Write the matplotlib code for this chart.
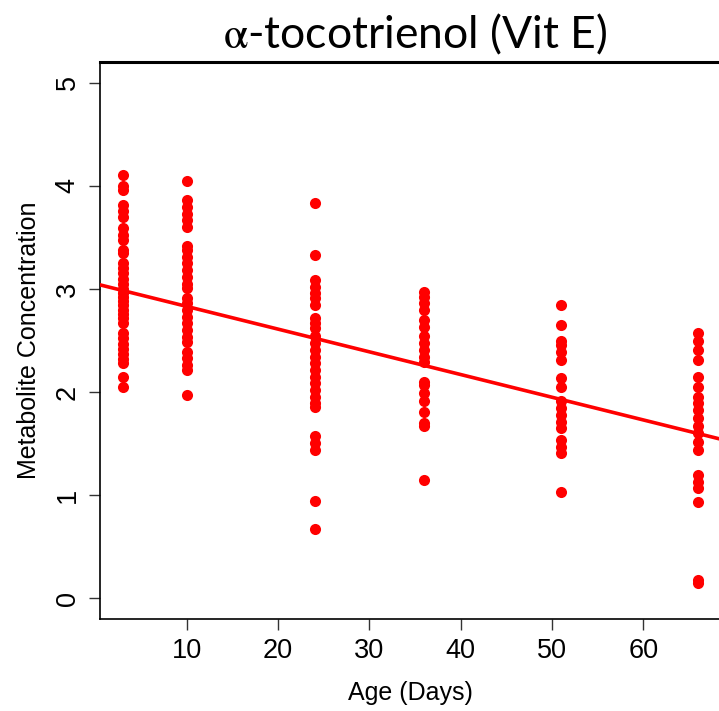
import matplotlib
matplotlib.use("Agg")
import matplotlib.pyplot as plt

# Age (days) of each sampling group
ages = [3, 10, 24, 36, 51, 66]

# Metabolite concentration measurements per age group
conc_day3 = [4.10, 4.00, 3.96, 3.81, 3.76, 3.70, 3.59, 3.52, 3.47, 3.38, 3.35,
             3.25, 3.20, 3.15, 3.10, 3.05, 3.00, 2.96, 2.92, 2.88, 2.84, 2.80,
             2.76, 2.72, 2.67, 2.57, 2.52, 2.47, 2.42, 2.37, 2.32, 2.28, 2.15, 2.05]
conc_day10 = [4.05, 3.86, 3.79, 3.73, 3.67, 3.60, 3.42, 3.38, 3.31, 3.25, 3.18,
              3.12, 3.05, 3.01, 2.91, 2.86, 2.80, 2.73, 2.67, 2.60, 2.53, 2.49,
              2.39, 2.33, 2.26, 2.21, 1.97]
conc_day24 = [3.83, 3.33, 3.09, 3.02, 2.96, 2.91, 2.84, 2.72, 2.67, 2.62, 2.54,
              2.48, 2.41, 2.34, 2.28, 2.21, 2.15, 2.09, 2.02, 1.95, 1.89, 1.86,
              1.57, 1.51, 1.44, 0.94, 0.67]
conc_day36 = [2.97, 2.92, 2.86, 2.80, 2.70, 2.63, 2.54, 2.48, 2.41, 2.34, 2.29,
              2.10, 2.07, 1.99, 1.91, 1.81, 1.70, 1.67, 1.15]
conc_day51 = [2.84, 2.65, 2.50, 2.46, 2.39, 2.31, 2.14, 2.05, 1.91, 1.85, 1.78,
              1.71, 1.65, 1.54, 1.47, 1.41, 1.03]
conc_day66 = [2.57, 2.50, 2.41, 2.31, 2.15, 2.05, 1.95, 1.89, 1.83, 1.75, 1.67,
              1.60, 1.52, 1.44, 1.20, 1.13, 1.07, 0.93, 0.18, 0.15]

groups = [conc_day3, conc_day10, conc_day24, conc_day36, conc_day51, conc_day66]

# Linear trend of concentration with age
fit_intercept = 3.05
fit_slope = -0.0220

x_ticks = [10, 20, 30, 40, 50, 60]
y_ticks = [0, 1, 2, 3, 4, 5]

plt.rcParams["font.family"] = ["Liberation Sans", "DejaVu Sans"]
plt.rcParams["mathtext.fontset"] = "stix"

fig = plt.figure(figsize=(7.19, 7.11), dpi=100)
ax = fig.add_axes([100 / 719, 1 - 619 / 711, 621 / 719, (619 - 62) / 711])

for age, vals in zip(ages, groups):
    ax.plot([age] * len(vals), vals, linestyle="none", marker="o",
            markersize=8, color="#ff0000", markeredgewidth=0, clip_on=False)

xlim = (0.48, 68.52)
ax.set_xlim(*xlim)
ax.set_ylim(-0.2, 5.2)
ax.plot(list(xlim), [fit_intercept + fit_slope * v for v in xlim],
        color="#ff0000", linewidth=2.6, zorder=3)

ax.set_xticks(x_ticks)
ax.set_yticks(y_ticks)
ax.set_yticklabels([str(t) for t in y_ticks], rotation=90, va="center")
ax.tick_params(axis="both", direction="out", length=8, width=1, labelsize=19.5,
               pad=6, color="#333333")

ax.spines["right"].set_visible(False)
ax.spines["top"].set_linewidth(2.2)
ax.spines["left"].set_linewidth(1.2)
ax.spines["bottom"].set_linewidth(1.2)

ax.set_xlabel("Age (Days)", fontsize=18, labelpad=12)
ax.set_ylabel("Metabolite Concentration", fontsize=18, labelpad=10)

fig.text(0.578, 0.952, r"$\mathrm{\alpha}$-tocotrienol (Vit E)", fontsize=32,
         ha="center", va="center", family=["Lato", "DejaVu Sans"])

fig.savefig("out.png", dpi=100)
